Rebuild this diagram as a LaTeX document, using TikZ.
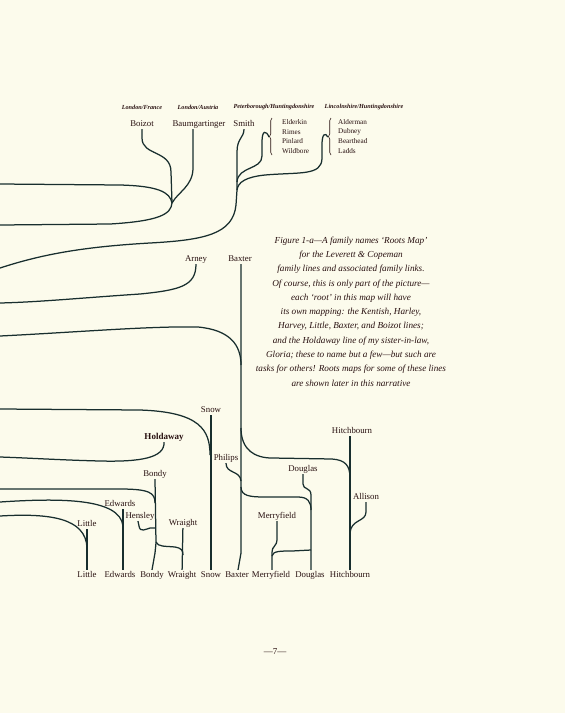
\documentclass[tikz,border=0pt]{standalone}
\usepackage{fontspec}
\setmainfont{Liberation Serif}
\usepackage{tikz}
\usetikzlibrary{positioning,decorations.pathreplacing}
\definecolor{paper}{RGB}{252,251,236}
\definecolor{ink}{RGB}{40,16,16}
\definecolor{rootline}{RGB}{24,46,46}

\begin{document}
\begin{tikzpicture}[x=1pt,y=-1pt,
	root/.style={draw=rootline,line width=1.25pt},
	fam/.style={inner sep=1pt,text=ink,text height=6pt,text depth=1.8pt,font=\fontsize{8.8}{9}\selectfont},
	place/.style={inner sep=0pt,text=ink,font=\fontsize{6.2}{7}\selectfont\bfseries\itshape},
	kin/.style={inner sep=0pt,anchor=west,text=ink,font=\fontsize{7.2}{7}\selectfont},
	curly/.style={draw=ink,line width=0.6pt,decorate,decoration={brace,amplitude=2.5pt}}]
	\fill[paper] (0,0) rectangle (565,713);
	\useasboundingbox (0,0) rectangle (565,713);
	% places and names along the top
	\foreach \x/\nm/\txt in {142/hFrance/{London/France}, 198/hAustria/{London/Austria},
		274/hPeter/{Peterborough/Huntingdonshire}, 364/hLinc/{Lincolnshire/Huntingdonshire}}
		\node[place] (\nm) at (\x,107) {\txt};
	\node[fam] (Boizot) at (142,124) {Boizot};
	\node[fam] (Baumgartinger) at (199,124) {Baumgartinger};
	\node[fam] (Smith) at (244,124) {Smith};
	\foreach \y/\nm in {122/Elderkin, 132/Rimes, 141/Pinlard, 151/Wildbore}
		\node[kin] (\nm) at (282,\y) {\nm};
	\foreach \y/\nm in {122/Alderman, 132/Dubney, 141/Bearthead, 151/Ladds}
		\node[kin] (\nm) at (338,\y) {\nm};
	\draw[curly] (272,155) -- (272,118);
	\draw[curly] (331,155) -- (331,118);
	\coordinate (tipA) at (269,137);
	\coordinate (tipB) at (328,137);
	% loose ends at the left edge
	\foreach \y [count=\i] in {184,225,268,303,336,409,457,489,502,516}
		\coordinate (w\i) at (0,\y);
	\coordinate (j1) at (172,203);
	\coordinate (j2) at (237,190);
	% upper roots
	\draw[root] (Boizot.south) -- (142,138) .. controls (142,156) and (171,150) .. (171,172) -- (j1);
	\draw[root] ([xshift=-6pt]Baumgartinger.south) -- (193,168) .. controls (193,186) and (178,192) .. (j1);
	\draw[root] (w1) -- (120,185) .. controls (158,186) and (170,192) .. (j1);
	\draw[root] (w2) -- (110,224) .. controls (160,221) and (171,214) .. (j1);
	\draw[root] (Smith.south) .. controls (244,138) and (237,138) .. (237,152) -- (j2);
	\draw[root] (tipA) .. controls (266,130) and (262,130) .. (262,142) -- (262,156)
		.. controls (262,170) and (238,166) .. (237,182);
	\draw[root] (tipB) .. controls (325,132) and (322,134) .. (322,145) -- (322,158)
		.. controls (322,176) and (300,172) .. (265,175) .. controls (246,177) and (238,182) .. (j2);
	\draw[root] (j2) -- (236,205) .. controls (233,234) and (205,240) .. (150,243)
		.. controls (80,247) and (40,255) .. (w3);
	% middle
	\node[fam] (Arney) at (196,259) {Arney};
	\node[fam] (tBaxter) at (240,259) {Baxter};
	\draw[root] (Arney.south) .. controls (196,286) and (180,290) .. (140,294)
		.. controls (80,298) and (40,302) .. (w4);
	\draw[root] (w5) .. controls (80,332) and (150,326) .. (198,327)
		.. controls (230,330) and (241,345) .. (241,365);
	\node[text=ink,align=center,inner sep=0pt,font=\fontsize{9.2}{14.3}\selectfont\itshape] (caption) at (351,311.5)
		{Figure 1-a---A family names `Roots Map'\\
		for the Leverett \& Copeman\\
		family lines and associated family links.\\
		Of course, this is only part of the picture---\\
		each `root' in this map will have\\
		its own mapping: the Kentish, Harley,\\
		Harvey, Little, Baxter, and Boizot lines;\\
		and the Holdaway line of my sister-in-law,\\
		Gloria; these to name but a few---but such are\\
		tasks for others! Roots maps for some of these lines\\
		are shown later in this narrative};
	% lower roots
	\foreach \x/\y/\nm in {211/410/Snow, 226/458/Philips, 155/474/Bondy, 120/504/Edwards,
		140/516/Hensley, 87/524/Little, 183/523/Wraight, 352/431/Hitchbourn,
		366/497/Allison, 303/469/Douglas, 277/516/Merryfield}
		\node[fam] (t\nm) at (\x,\y) {\nm};
	\node[fam,font=\fontsize{9}{9}\selectfont\bfseries] (Holdaway) at (164,437) {Holdaway};
	\foreach \x/\nm in {87/Little, 120/Edwards, 152/Bondy, 182/Wraight, 211/Snow,
		237/Baxter, 271/Merryfield, 310/Douglas, 350/Hitchbourn}
		\node[fam] (b\nm) at (\x,575) {\nm};
	\draw[root] (tBaxter.south -| 241,0) -- (241,553) -- (bBaxter.north -| 238,0);
	\draw[root] (tSnow) -- (bSnow);
	\draw[root] (w6) -- (140,410) .. controls (200,412) and (210,430) .. (210,455);
	\draw[root] (Holdaway.south) .. controls (165,458) and (140,462) .. (100,461)
		.. controls (60,460) and (30,458) .. (w7);
	\draw[root] (tBondy.south) -- (156,543) -- (155,553) -- (bBondy.north);
	\draw[root] (w8) -- (120,489) .. controls (150,489) and (155,493) .. (155,503);
	\draw[root] (tEdwards.south -| 123,0) -- (bEdwards.north -| 123,0);
	\draw[root] (w9) .. controls (60,498) and (120,498) .. (123,526);
	\draw[root] (tLittle) -- (bLittle);
	\draw[root] (w10) .. controls (50,513) and (86,518) .. (87,548);
	\draw[root] (tHensley.south -| 138,0) -- (139,526) .. controls (140,533) and (146,529) .. (150,528) -- (155,528);
	\draw[root] (tWraight) -- (bWraight);
	\draw[root] (156,542) .. controls (158,547) and (165,546) .. (175,547)
		.. controls (181,548) and (183,550) .. (183,555);
	\draw[root] (tPhilips.south) .. controls (226,474) and (240,470) .. (241,481);
	\draw[root] (241,428) .. controls (241,450) and (255,458) .. (272,458) -- (332,459)
		.. controls (345,460) and (350,465) .. (350,478);
	\draw[root] (tHitchbourn.south -| 350,0) -- (bHitchbourn);
	\draw[root] (tAllison.south) -- (366,512) .. controls (366,522) and (351,519) .. (350,533);
	\draw[root] (tDouglas.south) -- (303,484) .. controls (303,490) and (311,487) .. (311,495) -- (bDouglas.north -| 311,0);
	\draw[root] (241,487) .. controls (241,496) and (250,497) .. (265,497) -- (298,497)
		.. controls (308,497) and (311,502) .. (311,510);
	\draw[root] (tMerryfield.south) -- (277,539) .. controls (277,547) and (272,545) .. (272,553) -- (bMerryfield.north -| 272,0);
	\draw[root] (272,556) .. controls (273,551) and (280,551) .. (292,551) -- (311,550);
	\node[text=ink,font=\fontsize{9}{10}\selectfont] (pageno) at (275,652) {---7---};
\end{tikzpicture}
\end{document}
